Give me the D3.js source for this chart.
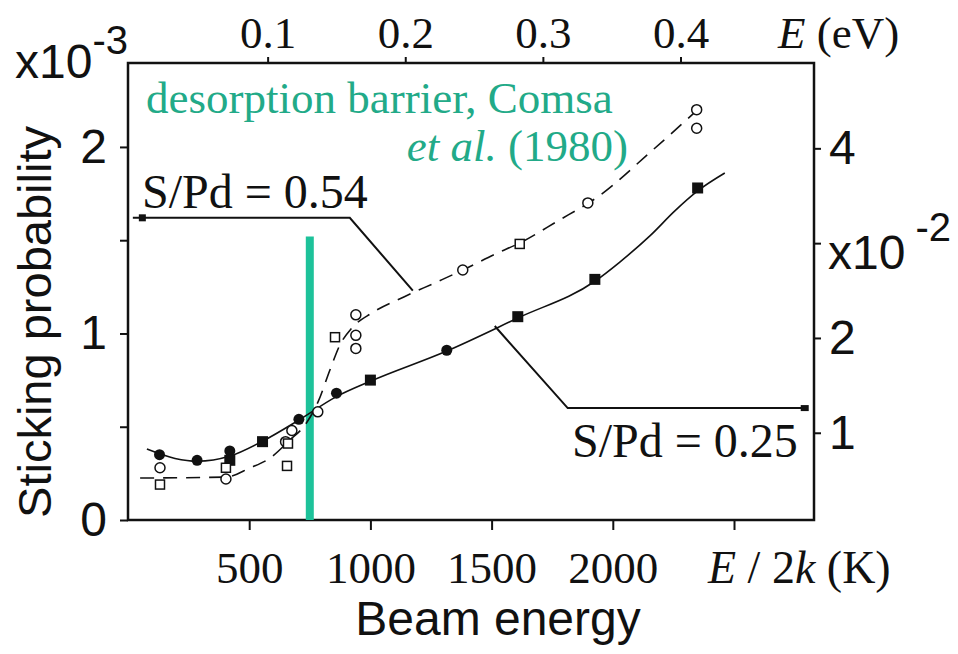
<!DOCTYPE html>
<html>
<head>
<meta charset="utf-8">
<script src="https://cdn.jsdelivr.net/npm/d3@7"></script>
<style>
  body { margin: 0; background: #fff; }
  svg { display: block; }
  .serif { font-family: "Liberation Serif", "Times New Roman", serif; }
  .sans { font-family: "Liberation Sans", Arial, sans-serif; }
</style>
</head>
<body>
<script>
// beam energy E/2k in K, sticking probability in units of 1e-3
const filledCircleK = [130, 285, 420, 705, 860, 1315];
const filledCircleS = [0.35, 0.32, 0.37, 0.54, 0.68, 0.91];
const filledSquareK = [420, 555, 1000, 1608, 1926, 2350];
const filledSquareS = [0.32, 0.42, 0.75, 1.09, 1.29, 1.78];

const openCircleK = [132, 404, 650, 676, 783, 940, 940, 940, 1381, 1897, 2346, 2346];
const openCircleS = [0.28, 0.22, 0.42, 0.48, 0.58, 1.10, 0.99, 0.92, 1.34, 1.70, 2.20, 2.10];
const openSquareK = [132, 404, 656, 660, 854, 1616];
const openSquareS = [0.19, 0.28, 0.29, 0.41, 0.98, 1.48];

// guide-to-the-eye curves as drawn in the figure
const solidK = [78, 194, 285, 421, 557, 705, 858, 1002, 1315, 1608, 1926, 2029, 2153, 2256, 2350, 2462];
const solidS = [0.38, 0.33, 0.315, 0.343, 0.424, 0.536, 0.66, 0.745, 0.906, 1.083, 1.28, 1.383, 1.523, 1.657, 1.764, 1.86];
const dashK = [50, 404, 503, 586, 668, 730, 784, 833, 874, 924, 1006, 1138, 1274, 1381, 1522, 1616, 1769, 1946, 2153, 2359];
const dashS = [0.225, 0.23, 0.279, 0.332, 0.429, 0.509, 0.633, 0.804, 0.938, 1.03, 1.11, 1.196, 1.276, 1.34, 1.43, 1.485, 1.60, 1.74, 1.97, 2.21];

// desorption barrier (Comsa et al. 1980)
const barrierK = 750;
const barrierTop = 1.52;

// leader lines for the labels
const lead054K = [20, 915, 1175];
const lead054S = [1.62, 1.62, 1.23];
const lead025K = [1513, 1814, 2800];
const lead025S = [1.04, 0.60, 0.60];

const bottomTicks = [500, 1000, 1500, 2000, 2500];
const topTicks = [0.1, 0.2, 0.3, 0.4];
const leftTicks = [0, 0.5, 1, 1.5, 2];
const rightTicks = [1, 2, 3, 4];

const W = 958, H = 654;
const L = 128, R = 814, T = 63, B = 520;
const teal = "#1dc29a", tealText = "#22aa88";

const svg = d3.select("body").append("svg").attr("width", W).attr("height", H);

const x = d3.scaleLinear().domain([0, 2830]).range([L, R]);
const xTop = d3.scaleLinear().domain([0, 0.497]).range([130, R]);
const y = d3.scaleLinear().domain([0, 2.45]).range([B, T]);
const yR = d3.scaleLinear().domain([0.08, 4.9]).range([B, T]);

const zip = (a, b) => a.map((v, i) => [v, b[i]]);

// axes
const gB = svg.append("g").attr("transform", `translate(0,${B})`)
  .call(d3.axisBottom(x).tickValues(bottomTicks).tickSize(10).tickPadding(21)
    .tickFormat(d => d === 2500 ? "" : d));
gB.selectAll("text").attr("class", "serif").attr("font-size", 45);

const gT = svg.append("g").attr("transform", `translate(0,${T})`)
  .call(d3.axisTop(xTop).tickValues(topTicks).tickSize(6).tickPadding(9).tickFormat(d3.format(".1f")));
gT.selectAll("text").attr("class", "serif").attr("font-size", 45);

const gL = svg.append("g").attr("transform", `translate(${L},0)`)
  .call(d3.axisLeft(y).tickValues(leftTicks).tickSize(8).tickPadding(13)
    .tickFormat(d => Number.isInteger(d) ? d : ""));
gL.selectAll("text").attr("class", "sans").attr("font-size", 48);

const gR = svg.append("g").attr("transform", `translate(${R},0)`)
  .call(d3.axisRight(yR).tickValues(rightTicks).tickSize(7).tickPadding(8)
    .tickFormat(d => d === 3 ? "" : d));
gR.selectAll("text").attr("class", "sans").attr("font-size", 48);

svg.selectAll(".domain").remove();
svg.selectAll(".tick line").attr("stroke", "#111").attr("stroke-width", 2);
svg.selectAll(".tick text").attr("fill", "#111");

svg.append("rect")
  .attr("x", L).attr("y", T).attr("width", R - L).attr("height", B - T)
  .attr("fill", "none").attr("stroke", "#111").attr("stroke-width", 2.5);

// exponent labels
const e3 = svg.append("text").attr("class", "sans").attr("x", 15).attr("y", 78)
  .attr("font-size", 48).attr("fill", "#111");
e3.append("tspan").text("x10");
e3.append("tspan").attr("font-size", 40).attr("dy", -24).text("-3");

const e2 = svg.append("text").attr("class", "sans").attr("x", 828).attr("y", yR(3) + 26)
  .attr("font-size", 48).attr("fill", "#111");
e2.append("tspan").text("x10");
e2.append("tspan").attr("font-size", 40).attr("dx", 10).attr("dy", -28).text("-2");

// axis titles
svg.append("text").attr("class", "sans").attr("font-size", 47).attr("fill", "#111")
  .attr("text-anchor", "middle")
  .attr("transform", `translate(51,322) rotate(-90)`)
  .text("Sticking probability");

svg.append("text").attr("class", "sans").attr("font-size", 48).attr("fill", "#111")
  .attr("text-anchor", "middle").attr("x", 498).attr("y", 635)
  .text("Beam energy");

const tE = svg.append("text").attr("class", "serif").attr("font-size", 45).attr("fill", "#111")
  .attr("x", 778).attr("y", 48);
tE.append("tspan").attr("font-style", "italic").text("E");
tE.append("tspan").text(" (eV)");

const tK = svg.append("text").attr("class", "serif").attr("font-size", 46).attr("fill", "#111")
  .attr("x", 708).attr("y", 583);
tK.append("tspan").attr("font-style", "italic").text("E");
tK.append("tspan").text(" / 2");
tK.append("tspan").attr("font-style", "italic").text("k");
tK.append("tspan").text(" (K)");

// barrier
svg.append("line")
  .attr("x1", x(barrierK)).attr("x2", x(barrierK))
  .attr("y1", y(0)).attr("y2", y(barrierTop))
  .attr("stroke", teal).attr("stroke-width", 8);

svg.append("text").attr("class", "serif").attr("font-size", 45).attr("fill", tealText)
  .attr("x", 146).attr("y", 113).text("desorption barrier, Comsa");
const t2 = svg.append("text").attr("class", "serif").attr("font-size", 45).attr("fill", tealText)
  .attr("x", 628).attr("y", 161).attr("text-anchor", "end");
t2.append("tspan").attr("font-style", "italic").text("et al.");
t2.append("tspan").text(" (1980)");

// curves
const line = d3.line().x(d => x(d[0])).y(d => y(d[1])).curve(d3.curveMonotoneX);

svg.append("path").datum(zip(solidK, solidS)).attr("d", line)
  .attr("fill", "none").attr("stroke", "#111").attr("stroke-width", 1.6);
svg.append("path").datum(zip(dashK, dashS)).attr("d", line)
  .attr("fill", "none").attr("stroke", "#111").attr("stroke-width", 1.6)
  .attr("stroke-dasharray", "14,9");

// leader lines
const lead = d3.line().x(d => x(d[0])).y(d => y(d[1]));
[zip(lead054K, lead054S), zip(lead025K, lead025S)].forEach(pts => {
  svg.append("path").datum(pts).attr("d", lead)
    .attr("fill", "none").attr("stroke", "#111").attr("stroke-width", 2);
});
svg.append("rect").attr("x", x(lead054K[0]) + 6).attr("y", y(lead054S[0]) - 3.5)
  .attr("width", 7).attr("height", 7).attr("fill", "#111");
svg.append("rect").attr("x", x(lead025K[2]) - 6).attr("y", y(lead025S[2]) - 3)
  .attr("width", 8).attr("height", 6).attr("fill", "#111");

svg.append("text").attr("class", "serif").attr("font-size", 48).attr("fill", "#111")
  .attr("x", 142).attr("y", 208).text("S/Pd = 0.54");
svg.append("text").attr("class", "serif").attr("font-size", 48).attr("fill", "#111")
  .attr("x", 572).attr("y", 457).text("S/Pd = 0.25");

// markers
svg.append("g").selectAll("circle").data(zip(filledCircleK, filledCircleS)).join("circle")
  .attr("cx", d => x(d[0])).attr("cy", d => y(d[1])).attr("r", 5.5).attr("fill", "#111");
svg.append("g").selectAll("rect").data(zip(filledSquareK, filledSquareS)).join("rect")
  .attr("x", d => x(d[0]) - 5.5).attr("y", d => y(d[1]) - 5.5)
  .attr("width", 11).attr("height", 11).attr("fill", "#111");
svg.append("g").selectAll("circle").data(zip(openCircleK, openCircleS)).join("circle")
  .attr("cx", d => x(d[0])).attr("cy", d => y(d[1])).attr("r", 5)
  .attr("fill", "#fff").attr("stroke", "#111").attr("stroke-width", 1.5);
svg.append("g").selectAll("rect").data(zip(openSquareK, openSquareS)).join("rect")
  .attr("x", d => x(d[0]) - 4.5).attr("y", d => y(d[1]) - 4.5)
  .attr("width", 9).attr("height", 9)
  .attr("fill", "#fff").attr("stroke", "#111").attr("stroke-width", 1.5);
</script>
</body>
</html>
